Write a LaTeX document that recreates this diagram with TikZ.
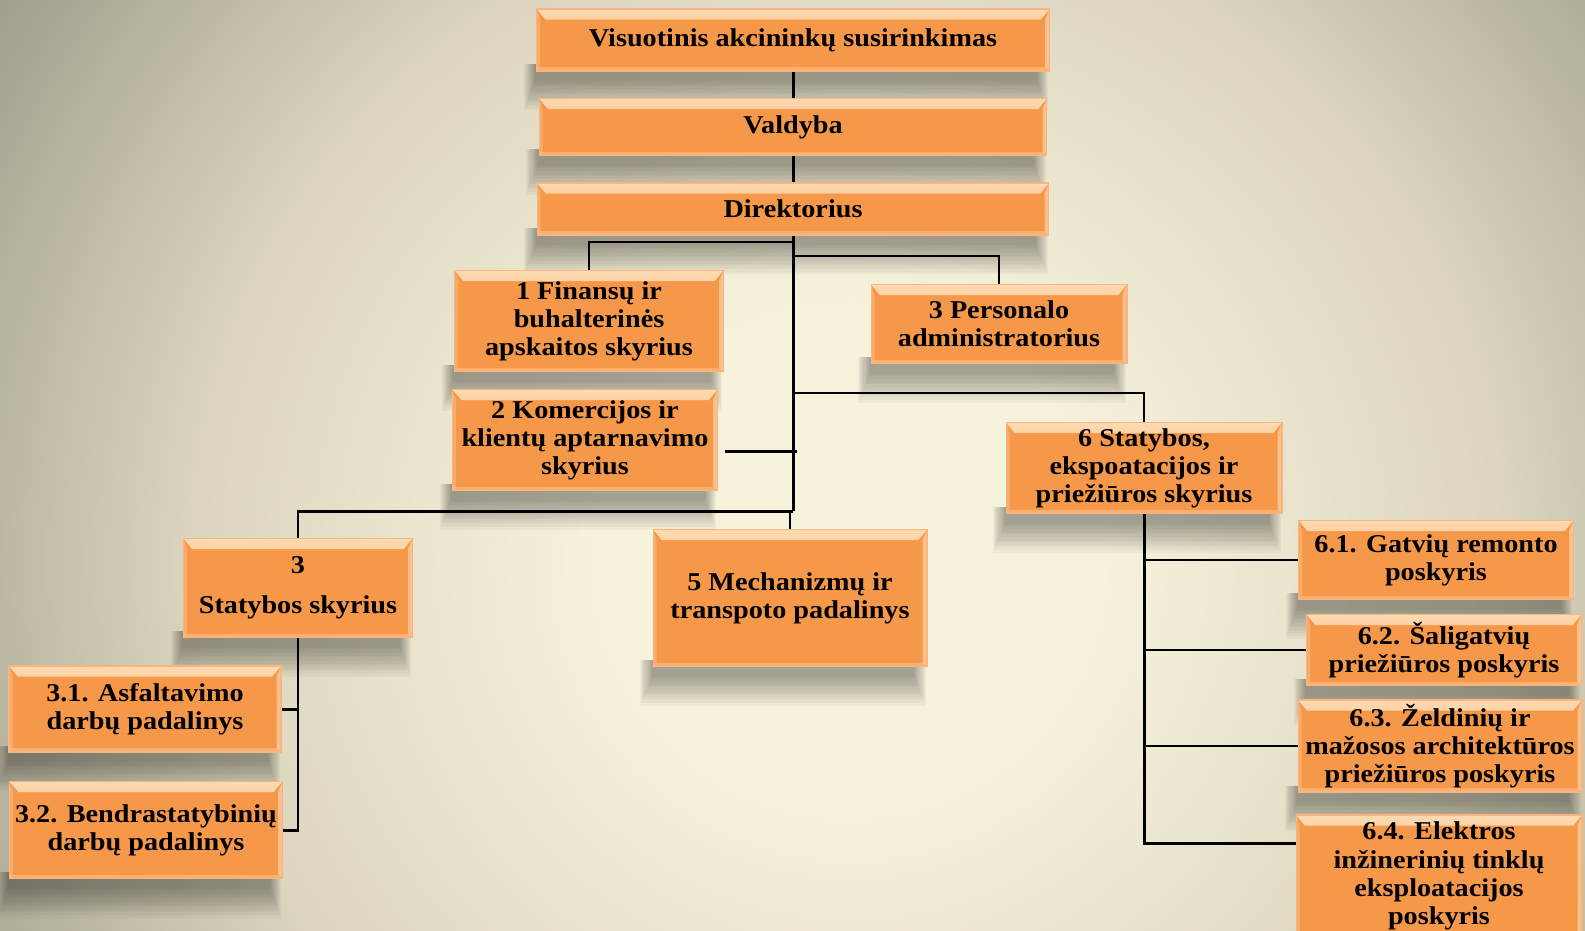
\documentclass[tikz,border=0pt]{standalone}
\usepackage{fontspec}
\setmainfont{Liberation Serif}[FakeStretch=1.1]
\definecolor{orgfill}{HTML}{F6984A}
\definecolor{orgedge}{HTML}{F9B57F}
\definecolor{bevtop}{HTML}{FDDAB2}
\definecolor{bevside}{HTML}{FBC08C}
\definecolor{bgin}{HTML}{F7F2DC}
\definecolor{bgmid}{HTML}{DCD6BE}
\definecolor{bgout}{HTML}{9C9B89}
\pgfdeclareradialshading{backdrop}{\pgfpoint{0bp}{0bp}}{color(0bp)=(bgin); color(12bp)=(bgin); color(31bp)=(bgmid); color(50bp)=(bgout)}
\pgfdeclarelayer{backdrop}
\pgfdeclarelayer{shade}
\pgfsetlayers{backdrop,shade,main}
\tikzset{
	unit/.style={draw=orgedge, line width=0.6pt, fill=orgfill, align=center, inner sep=2pt,
		font=\fontsize{14.6}{16}\selectfont\bfseries,
		path picture={
			\shade[top color=bevtop, bottom color=orgfill]
				(path picture bounding box.north west) -- (path picture bounding box.north east)
				-- ([xshift=-5pt,yshift=-6pt]path picture bounding box.north east)
				-- ([xshift=5pt,yshift=-6pt]path picture bounding box.north west) -- cycle;
			\fill[bevside] (path picture bounding box.north east) -- (path picture bounding box.south east)
				-- ([xshift=-2.5pt,yshift=2pt]path picture bounding box.south east)
				-- ([xshift=-2.5pt,yshift=-6pt]path picture bounding box.north east) -- cycle;
			\fill[bevside, opacity=.5] (path picture bounding box.north west) -- (path picture bounding box.south west)
				-- ([xshift=2pt,yshift=2pt]path picture bounding box.south west)
				-- ([xshift=2pt,yshift=-6pt]path picture bounding box.north west) -- cycle;
			\fill[bevside, opacity=.6] (path picture bounding box.south west) rectangle ([yshift=2pt]path picture bounding box.south east);
		}},
	link/.style={line width=1.2pt},
	spine/.style={line width=1.7pt}
}
\begin{document}
\begin{tikzpicture}[x=0.02cm, y=-0.02cm]
	\useasboundingbox (0,0) rectangle (1585,930);
	\begin{pgfonlayer}{backdrop}
		\node[inner sep=0pt, scale=11.86] (glow) at (850,560) {\pgfuseshading{backdrop}};
	\end{pgfonlayer}

	\node[unit, minimum width=10.26cm, minimum height=1.24cm] (meeting) at (793,40) {Visuotinis akcininkų susirinkimas};
	\node[unit, minimum width=10.16cm, minimum height=1.14cm] (board) at (793,127) {Valdyba};
	\node[unit, minimum width=10.24cm, minimum height=1.04cm] (director) at (793,209) {Direktorius};
	\node[unit, minimum width=5.38cm, minimum height=2.02cm] (finance) at (589,321) {1 Finansų ir\\buhalterinės\\apskaitos skyrius};
	\node[unit, minimum width=5.30cm, minimum height=2.02cm] (commerce) at (585,440) {2 Komercijos ir\\klientų aptarnavimo\\skyrius};
	\node[unit, minimum width=5.12cm, minimum height=1.58cm] (personnel) at (999,324) {3 Personalo\\administratorius};
	\node[unit, minimum width=5.52cm, minimum height=1.82cm] (build6) at (1144,468) {6 Statybos,\\ekspoatacijos ir\\priežiūros skyrius};
	\node[unit, minimum width=4.58cm, minimum height=1.98cm] (build3) at (298,588) {3\\[7pt]Statybos skyrius};
	\node[unit, minimum width=5.48cm, minimum height=2.74cm] (mech) at (790,598) {5 Mechanizmų ir\\transpoto padalinys};
	\node[unit, minimum width=5.44cm, minimum height=1.72cm] (asphalt) at (145,709) {3.1. Asfaltavimo\\darbų padalinys};
	\node[unit, minimum width=5.46cm, minimum height=1.94cm] (general) at (146,830) {3.2. Bendrastatybinių\\darbų padalinys};
	\node[unit, minimum width=5.50cm, minimum height=1.58cm] (streets) at (1436,560) {6.1. Gatvių remonto\\poskyris};
	\node[unit, minimum width=5.50cm, minimum height=1.42cm] (walks) at (1444,650) {6.2. Šaligatvių\\priežiūros poskyris};
	\node[unit, minimum width=5.68cm, minimum height=1.84cm] (greens) at (1440,746) {6.3. Želdinių ir\\mažosos architektūros\\priežiūros poskyris};
	\node[unit, minimum width=5.72cm, minimum height=2.44cm] (electric) at (1439,876) {6.4. Elektros\\inžinerinių tinklų\\eksploatacijos\\poskyris};

	\begin{pgfonlayer}{shade}
		\foreach \n in {meeting,board,director,finance,commerce,personnel,build6,build3,mech,asphalt,general,streets,walks,greens,electric}
			\foreach \k in {0,...,11}
				\fill[black, opacity=.032] ([xshift=\k*0.6pt-7pt, yshift=4pt]\n.south west) rectangle ([xshift=-\k*0.6pt-1pt, yshift=-22pt+\k*1.5pt]\n.south east);
	\end{pgfonlayer}

	\coordinate (jfin) at (793,242);
	\coordinate (jper) at (793,256);
	\coordinate (jb6) at (793,393);
	\coordinate (jcom) at (797,451);
	\coordinate (tbot) at (793,511);
	\coordinate (jel) at (1144,843);

	\draw[spine] (meeting.south) -- (board.north);
	\draw[spine] (board.south) -- (director.north);
	\draw[spine] (director.south) -- (tbot);
	\draw[link] (finance.north) |- (jfin);
	\draw[link] (personnel.north) |- (jper);
	\draw[link] (build6.north) |- (jb6);
	\draw[spine, shorten <=4pt] (commerce.east |- jcom) -- (jcom);
	\draw[spine] (tbot) -| (build3.north);
	\draw[link] (mech.north) -- (mech.north |- tbot);
	\draw[spine] (build3.south) |- (asphalt.east);
	\draw[spine] (build3.south) |- (general.east);
	\foreach \n in {streets,walks,greens}
		\draw[link] (build6.south) |- (\n.west);
	\draw[spine] (build6.south) -- (jel) -- (electric.west |- jel);
\end{tikzpicture}
\end{document}
